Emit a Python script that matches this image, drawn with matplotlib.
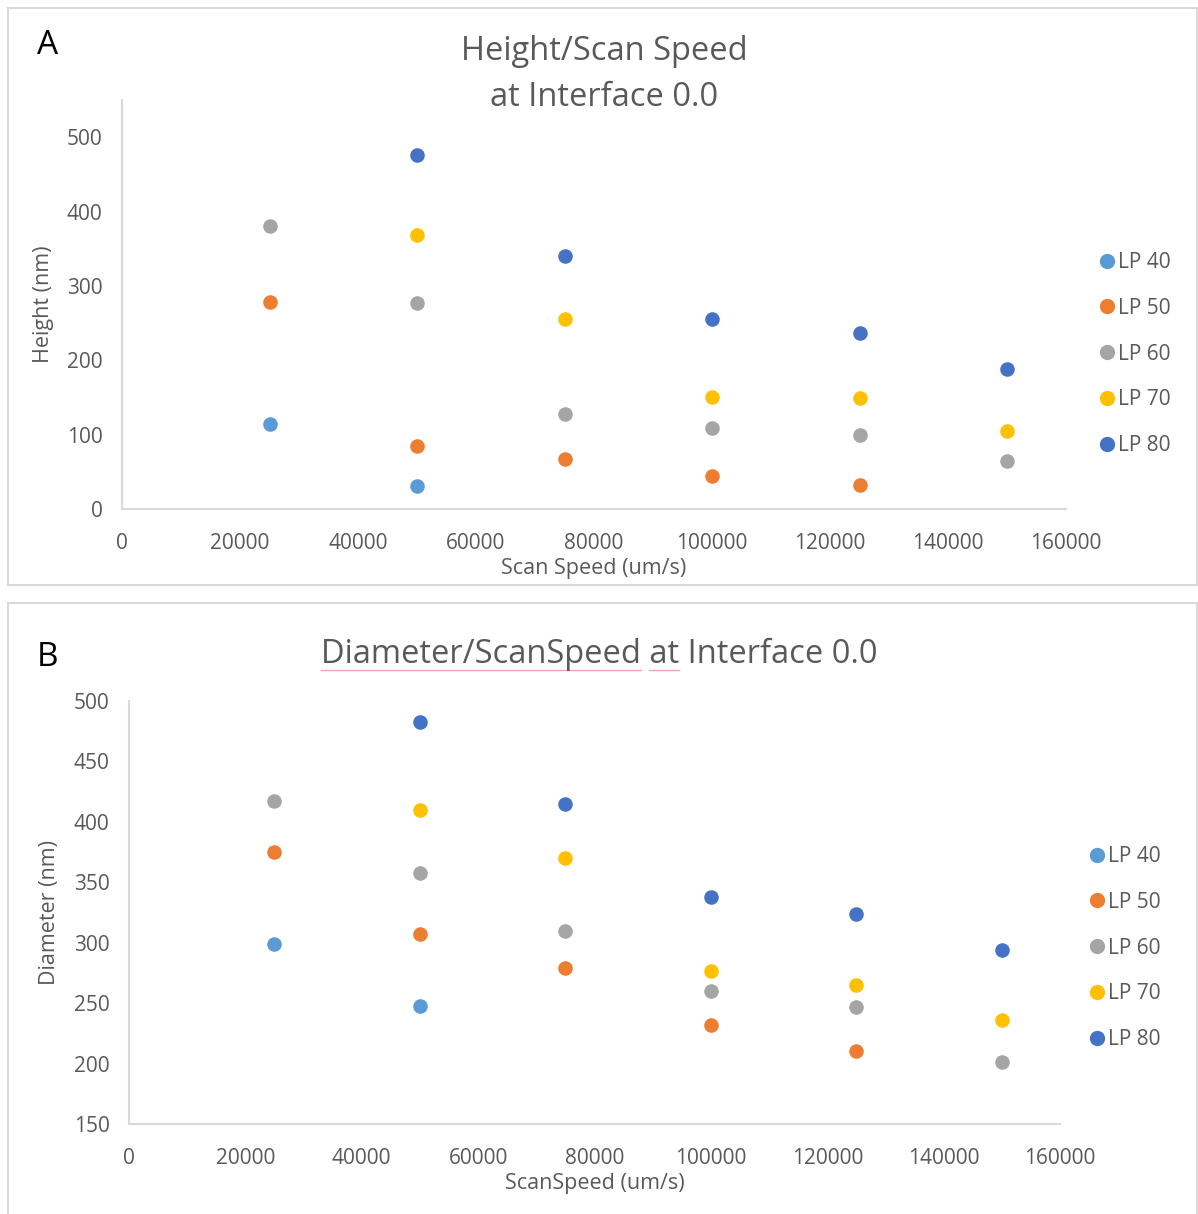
import matplotlib
matplotlib.use("Agg")
import matplotlib.pyplot as plt
from matplotlib.patches import Rectangle
from matplotlib.lines import Line2D

plt.rcParams['font.family'] = ['Open Sans', 'DejaVu Sans']

W, H = 1198, 1214
DPI = 100

speeds = [25000, 50000, 75000, 100000, 125000, 150000]
series = ["LP 40", "LP 50", "LP 60", "LP 70", "LP 80"]
colors = ["#5B9BD5", "#ED7D31", "#A5A5A5", "#FFC000", "#4472C4"]

# height (nm) per laser power, None where there is no measurement
height_lp40 = [114, 31, None, None, None, None]
height_lp50 = [278, 85, 67, 44, 32, None]
height_lp60 = [380, 277, 128, 109, 100, 65]
height_lp70 = [None, 368, 255, 150, 149, 105]
height_lp80 = [None, 476, 340, 255, 237, 188]

# diameter (nm) per laser power
diam_lp40 = [299, 248, None, None, None, None]
diam_lp50 = [375, 307, 279, 232, 210, None]
diam_lp60 = [417, 358, 310, 260, 247, 201]
diam_lp70 = [None, 410, 370, 277, 265, 236]
diam_lp80 = [None, 483, 415, 338, 324, 294]

heights = [height_lp40, height_lp50, height_lp60, height_lp70, height_lp80]
diams = [diam_lp40, diam_lp50, diam_lp60, diam_lp70, diam_lp80]

x_ticks = [0, 20000, 40000, 60000, 80000, 100000, 120000, 140000, 160000]

TXT = "#595959"
LINE = "#D9D9D9"

fig = plt.figure(figsize=(W / DPI, H / DPI), dpi=DPI)


def box(x0, y0, x1, y1):
    # pixel box (top-left origin) -> figure fraction rect
    return [x0 / W, 1 - y1 / H, (x1 - x0) / W, (y1 - y0) / H]


def fx(x):
    return x / W


def fy(y):
    return 1 - y / H


# panel frames
for (x0, y0, x1, y1) in [(8, 8, 1197, 585), (8, 603, 1197, 1240)]:
    fig.patches.append(Rectangle((fx(x0), fy(y1)), (x1 - x0) / W, (y1 - y0) / H,
                                 transform=fig.transFigure, fill=False,
                                 edgecolor=LINE, linewidth=1.5))


def scatter_panel(rect, data, ylim, yticks, xlabel, ylabel, legend_xy, ylabelpad):
    ax = fig.add_axes(rect)
    for name, col, vals in zip(series, colors, data):
        xs = [s for s, v in zip(speeds, vals) if v is not None]
        ys = [v for v in vals if v is not None]
        ax.scatter(xs, ys, s=110, color=col, linewidths=0, zorder=3, label=name)
    ax.set_xlim(0, 160000)
    ax.set_ylim(*ylim)
    ax.set_xticks(x_ticks)
    ax.set_yticks(yticks)
    ax.tick_params(length=0, labelsize=15, labelcolor=TXT)
    ax.tick_params(axis="x", pad=17)
    ax.tick_params(axis="y", pad=14)
    for side in ["top", "right"]:
        ax.spines[side].set_visible(False)
    for side in ["left", "bottom"]:
        ax.spines[side].set_color(LINE)
        ax.spines[side].set_linewidth(1.5)
    ax.set_xlabel(xlabel, fontsize=15.5, color=TXT, labelpad=3)
    ax.set_ylabel(ylabel, fontsize=15.5, color=TXT, labelpad=ylabelpad)
    handles = [Line2D([], [], marker="o", linestyle="", markersize=11,
                      markerfacecolor=c, markeredgewidth=0) for c in colors]
    fig.legend(handles, series, loc="center left",
               bbox_to_anchor=(fx(legend_xy[0]), fy(legend_xy[1])),
               frameon=False, fontsize=15, labelcolor=TXT,
               handletextpad=0.05, handlelength=1.0, labelspacing=1.19,
               borderpad=0)
    return ax


axA = scatter_panel(box(122, 100, 1066, 509), heights, (0, 550),
                    [0, 100, 200, 300, 400, 500],
                    "Scan Speed (um/s)", "Height (nm)", (1086, 354), 9)
axB = scatter_panel(box(129, 701, 1060, 1124), diams, (150, 500),
                    [150, 200, 250, 300, 350, 400, 450, 500],
                    "ScanSpeed (um/s)", "Diameter (nm)", (1076, 948), 10)

# titles and panel letters
fig.text(fx(604), fy(52), "Height/Scan Speed", ha="center", va="center",
         fontsize=23.5, color=TXT)
fig.text(fx(604), fy(97), "at Interface 0.0", ha="center", va="center",
         fontsize=23.5, color=TXT)
titleB = fig.text(fx(599), fy(654), "Diameter/ScanSpeed at Interface 0.0",
                  ha="center", va="center", fontsize=23.5, color=TXT)
fig.text(fx(48), fy(45), "A", ha="center", va="center", fontsize=24, color="black")
fig.text(fx(48), fy(658), "B", ha="center", va="center", fontsize=24, color="black")

# spell-check underline under the first words of the B title
r = fig.canvas.get_renderer()
full = titleB.get_window_extent(r)
def width_of(s):
    t = fig.text(0, 0, s, fontsize=23.5)
    w = t.get_window_extent(r).width
    t.remove()
    return w
w1 = width_of("Diameter/ScanSpeed")
w2 = width_of("Diameter/ScanSpeed ")
w3 = width_of("Diameter/ScanSpeed at")
y_ul = fy(670)
for a, b in [(0, w1), (w2, w3)]:
    fig.add_artist(Line2D([(full.x0 + a) / W, (full.x0 + b) / W], [y_ul, y_ul],
                          transform=fig.transFigure, color="#F2A7A7", linewidth=1))

fig.savefig("out.png", dpi=DPI)
